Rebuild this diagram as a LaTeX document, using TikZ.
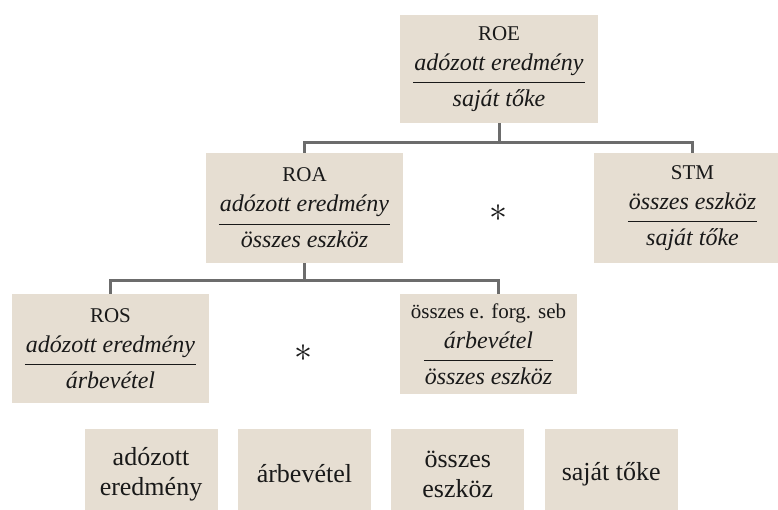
\documentclass[tikz,border=0pt]{standalone}
\usepackage{fontspec}
\setmainfont{Liberation Serif}
\usepackage{xcolor}
\usepackage{graphicx}
\usepackage{tikz}
\usetikzlibrary{positioning}
\definecolor{boxfill}{HTML}{E6DED2}
\definecolor{linkgray}{HTML}{6C6C6C}
\setlength{\arrayrulewidth}{1.2pt}
\newcommand{\ratio}[2]{{\itshape\fontsize{24}{27}\selectfont\renewcommand{\arraystretch}{0}\begin{tabular}[t]{@{\hspace{1pt}}c@{\hspace{1pt}}}#1\rule[-12pt]{0pt}{18pt}\\\hline\rule{0pt}{23pt}#2\end{tabular}}}

\begin{document}
\begin{tikzpicture}[
    x=1pt, y=-1pt,
    node distance=20pt,
    ratiobox/.style={rectangle, fill=boxfill, inner sep=0pt, minimum width=197pt, minimum height=110pt, align=center, text=black!90, font=\fontsize{21}{30}\selectfont},
    basebox/.style={rectangle, fill=boxfill, inner sep=0pt, minimum width=133pt, minimum height=90pt, align=center, text=black!90, font=\fontsize{26}{30}\selectfont},
    times/.style={inner sep=0pt, text=black!90},
    link/.style={draw=linkgray, line width=3pt}
]
    \useasboundingbox (0,0) rectangle (778,510);
    \clip (0,0) rectangle (778,510);

    \node[ratiobox, minimum width=198pt, minimum height=108pt] (roe) at (499,69) {ROE\\\ratio{adózott eredmény}{saját tőke}};
    \node[ratiobox] (roa) at (304.5,208) {ROA\\\ratio{adózott eredmény}{összes eszköz}};
    \node[ratiobox] (stm) at (692.5,208) {STM\\\ratio{összes eszköz}{saját tőke}};
    \node[times] (x1) at (498,213) {\scalebox{3.6}{$\ast$}};
    \node[ratiobox, minimum height=109pt] (ros) at (110.5,348.5) {ROS\\\ratio{adózott eredmény}{árbevétel}};
    \node[ratiobox, minimum width=177pt, minimum height=100pt] (ofs) at (488.5,344) {összes e. forg. seb\\\ratio{árbevétel}{összes eszköz}};
    \node[times] (x2) at (303,353) {\scalebox{3.6}{$\ast$}};

    \node[basebox] (b1) at (151,474) {adózott\\eredmény};
    \node[basebox, right=of b1] (b2) {árbevétel};
    \node[basebox, right=of b2] (b3) {összes\\eszköz};
    \node[basebox, right=of b3] (b4) {saját tőke};

    \draw[link] (roe.south) -- ++(0,19) -| (roa.north);
    \draw[link] (roe.south) -- ++(0,19) -| (stm.north);
    \draw[link] (roa.south) -- ++(0,17) -| (ros.north);
    \draw[link] (roa.south) -- ++(0,17) -| ([xshift=9.5pt]ofs.north);
\end{tikzpicture}
\end{document}
